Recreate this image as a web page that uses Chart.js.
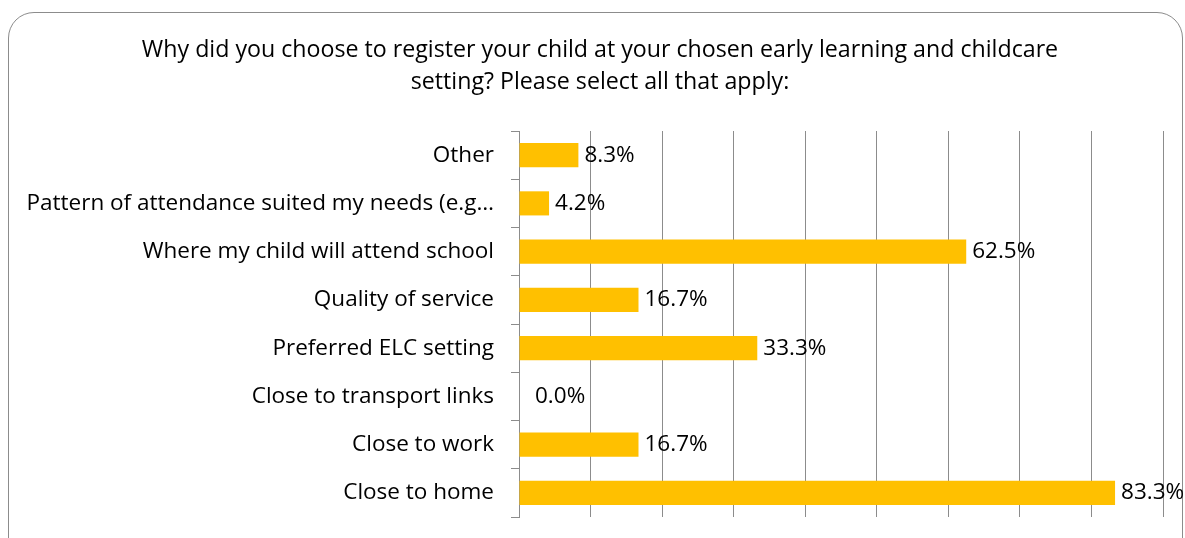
<!DOCTYPE html>
<html>
<head>
<meta charset="utf-8">
<script src="https://cdn.jsdelivr.net/npm/chart.js@4/dist/chart.umd.min.js"></script>
<style>
    body { margin: 0; background: #fff; overflow: hidden; }
    #frame {
        position: absolute; left: 8px; top: 12px; width: 1175px; height: 560px;
        border: 1.5px solid #8c8c8c; border-radius: 26px; box-sizing: border-box;
    }
    #wrap { position: absolute; left: 0; top: 0; width: 1185px; height: 538px; }
</style>
</head>
<body>
<div id="frame"></div>
<div id="wrap"><canvas id="reasonChart" width="1185" height="538"></canvas></div>
<script>
// Chart data
const titleLines = [
    'Why did you choose to register your child at your chosen early learning and childcare',
    'setting? Please select all that apply:'
];
const categories = [
    'Other',
    'Pattern of attendance suited my needs (e.g\u2026',
    'Where my child will attend school',
    'Quality of service',
    'Preferred ELC setting',
    'Close to transport links',
    'Close to work',
    'Close to home'
];
const percentValues = [8.3, 4.2, 62.5, 16.7, 33.3, 0.0, 16.7, 83.3];
const axisMax = 90;
const axisStep = 10;

const fontFamily = "'Open Sans', 'Noto Sans', sans-serif";
const gridColor = '#8c8c8c';

// Title is centred on the outer frame, not on the canvas
const frameTitle = {
    id: 'frameTitle',
    afterDraw(chart) {
        const ctx = chart.ctx;
        ctx.save();
        ctx.font = '23.2px ' + fontFamily;
        ctx.fillStyle = '#000';
        ctx.textAlign = 'center';
        ctx.textBaseline = 'middle';
        titleLines.forEach(function(line, i) {
            ctx.fillText(line, 600, 50 + i * 32);
        });
        ctx.restore();
    }
};

// Draws the value label to the right of each bar
const valueLabels = {
    id: 'valueLabels',
    afterDatasetsDraw(chart) {
        const ctx = chart.ctx;
        const meta = chart.getDatasetMeta(0);
        ctx.save();
        ctx.font = '22.5px ' + fontFamily;
        ctx.fillStyle = '#000';
        ctx.textBaseline = 'middle';
        ctx.textAlign = 'left';
        meta.data.forEach(function(bar, i) {
            const offset = percentValues[i] === 0 ? 16 : 6;
            ctx.fillText(percentValues[i].toFixed(1) + '%', bar.x + offset, bar.y);
        });
        ctx.restore();
    }
};

document.addEventListener('DOMContentLoaded', function() {
    const ctx = document.getElementById('reasonChart').getContext('2d');

    new Chart(ctx, {
        type: 'bar',
        data: {
            labels: categories,
            datasets: [{
                data: percentValues,
                backgroundColor: '#FFC000',
                borderWidth: 0,
                barPercentage: 0.5,
                categoryPercentage: 1
            }]
        },
        options: {
            indexAxis: 'y',
            responsive: false,
            animation: false,
            layout: {
                padding: { left: 0, right: 22, top: 131, bottom: 21 }
            },
            plugins: {
                legend: { display: false },
                tooltip: { enabled: false },
                title: { display: false }
            },
            scales: {
                x: {
                    min: 0,
                    max: axisMax,
                    ticks: { display: false, stepSize: axisStep },
                    grid: { color: gridColor, drawTicks: false, lineWidth: 1 },
                    border: { display: false },
                    afterFit: function(scale) {
                        scale.height = 0;
                        scale.paddingLeft = 0;
                        scale.paddingRight = 0;
                    }
                },
                y: {
                    ticks: {
                        color: '#000',
                        padding: 17,
                        font: { family: fontFamily, size: 22.5 }
                    },
                    grid: {
                        drawOnChartArea: false,
                        drawTicks: true,
                        tickLength: 8,
                        color: gridColor,
                        offset: true
                    },
                    border: { display: true, color: gridColor },
                    afterFit: function(scale) {
                        scale.width = 519;
                        scale.paddingTop = 0;
                        scale.paddingBottom = 0;
                    }
                }
            }
        },
        plugins: [valueLabels, frameTitle]
    });
});
</script>
</body>
</html>
